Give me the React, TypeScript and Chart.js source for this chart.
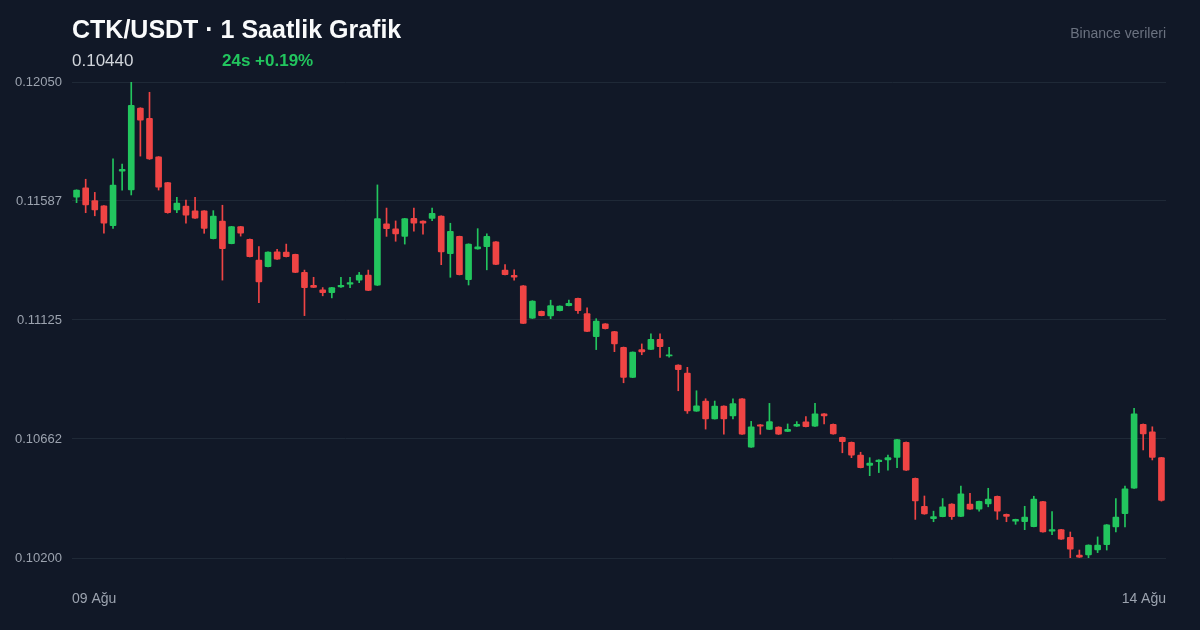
import { useEffect, useRef } from 'react';
import { Chart, registerables } from 'chart.js';

Chart.register(...registerables);

// 1 saatlik mumlar, 09 Ağu - 14 Ağu (120 adet)
const opens = [
  0.11602, 0.11639, 0.11589, 0.11569, 0.11492, 0.11703, 0.11631, 0.11949, 0.11909, 0.11759,
  0.11659, 0.11553, 0.11568, 0.11549, 0.11549, 0.11441, 0.11509, 0.11422, 0.11488, 0.11439,
  0.11358, 0.11332, 0.11390, 0.11389, 0.11380, 0.11310, 0.11260, 0.11242, 0.11231, 0.11254,
  0.11264, 0.11280, 0.11300, 0.11260, 0.11499, 0.11479, 0.11450, 0.11520, 0.11509, 0.11520,
  0.11529, 0.11383, 0.11450, 0.11282, 0.11401, 0.11410, 0.11429, 0.11319, 0.11299, 0.11258,
  0.11132, 0.11159, 0.11141, 0.11161, 0.11181, 0.11209, 0.11150, 0.11060, 0.11110, 0.11080,
  0.11019, 0.10902, 0.11010, 0.11011, 0.11050, 0.10985, 0.10950, 0.10919, 0.10771, 0.10810,
  0.10741, 0.10790, 0.10752, 0.10819, 0.10631, 0.10718, 0.10700, 0.10709, 0.10692, 0.10712,
  0.10729, 0.10712, 0.10760, 0.10720, 0.10669, 0.10650, 0.10600, 0.10560, 0.10574, 0.10581,
  0.10591, 0.10650, 0.10510, 0.10401, 0.10353, 0.10361, 0.10410, 0.10362, 0.10410, 0.10390,
  0.10410, 0.10440, 0.10370, 0.10343, 0.10341, 0.10322, 0.10419, 0.10304, 0.10310, 0.10280,
  0.10211, 0.10212, 0.10231, 0.10252, 0.10321, 0.10372, 0.10471, 0.10720, 0.10690, 0.10590,
];

const highs = [
  0.11631, 0.11672, 0.11621, 0.11570, 0.11751, 0.11731, 0.12050, 0.11950, 0.12010, 0.11760,
  0.11660, 0.11602, 0.11591, 0.11602, 0.11550, 0.11550, 0.11571, 0.11489, 0.11489, 0.11440,
  0.11410, 0.11390, 0.11400, 0.11420, 0.11381, 0.11319, 0.11291, 0.11251, 0.11252, 0.11291,
  0.11291, 0.11310, 0.11319, 0.11650, 0.11560, 0.11510, 0.11520, 0.11560, 0.11510, 0.11560,
  0.11530, 0.11501, 0.11451, 0.11421, 0.11480, 0.11460, 0.11430, 0.11340, 0.11320, 0.11259,
  0.11200, 0.11160, 0.11202, 0.11180, 0.11202, 0.11210, 0.11172, 0.11130, 0.11111, 0.11081,
  0.11020, 0.11001, 0.11032, 0.11071, 0.11071, 0.11019, 0.10951, 0.10941, 0.10850, 0.10819,
  0.10810, 0.10791, 0.10819, 0.10820, 0.10731, 0.10719, 0.10801, 0.10710, 0.10721, 0.10730,
  0.10750, 0.10801, 0.10761, 0.10721, 0.10670, 0.10651, 0.10611, 0.10590, 0.10582, 0.10600,
  0.10661, 0.10651, 0.10511, 0.10441, 0.10382, 0.10431, 0.10411, 0.10480, 0.10451, 0.10421,
  0.10471, 0.10441, 0.10371, 0.10351, 0.10401, 0.10440, 0.10420, 0.10380, 0.10311, 0.10301,
  0.10231, 0.10251, 0.10282, 0.10330, 0.10431, 0.10480, 0.10782, 0.10721, 0.10710, 0.10591,
];

const lows = [
  0.11581, 0.11542, 0.11530, 0.11462, 0.11481, 0.11630, 0.11611, 0.11762, 0.11749, 0.11630,
  0.11540, 0.11542, 0.11501, 0.11520, 0.11462, 0.11440, 0.11280, 0.11421, 0.11451, 0.11370,
  0.11192, 0.11331, 0.11360, 0.11370, 0.11309, 0.11142, 0.11251, 0.11219, 0.11211, 0.11252,
  0.11251, 0.11270, 0.11239, 0.11259, 0.11450, 0.11431, 0.11420, 0.11470, 0.11459, 0.11511,
  0.11340, 0.11291, 0.11300, 0.11261, 0.11400, 0.11320, 0.11340, 0.11300, 0.11280, 0.11111,
  0.11131, 0.11141, 0.11130, 0.11160, 0.11180, 0.11151, 0.11080, 0.11010, 0.11090, 0.11002,
  0.10881, 0.10901, 0.10990, 0.11010, 0.10980, 0.10981, 0.10850, 0.10762, 0.10770, 0.10701,
  0.10740, 0.10681, 0.10741, 0.10680, 0.10630, 0.10681, 0.10699, 0.10680, 0.10691, 0.10711,
  0.10709, 0.10711, 0.10721, 0.10681, 0.10609, 0.10590, 0.10550, 0.10520, 0.10532, 0.10541,
  0.10551, 0.10540, 0.10350, 0.10370, 0.10341, 0.10360, 0.10350, 0.10361, 0.10389, 0.10382,
  0.10399, 0.10350, 0.10341, 0.10331, 0.10310, 0.10321, 0.10300, 0.10291, 0.10272, 0.10201,
  0.10202, 0.10201, 0.10221, 0.10231, 0.10301, 0.10321, 0.10470, 0.10620, 0.10581, 0.10421,
];

const closes = [
  0.11630, 0.11572, 0.11553, 0.11501, 0.11649, 0.11711, 0.11959, 0.11902, 0.11751, 0.11641,
  0.11542, 0.11579, 0.11532, 0.11521, 0.11481, 0.11529, 0.11402, 0.11488, 0.11462, 0.11371,
  0.11273, 0.11389, 0.11361, 0.11371, 0.11310, 0.11251, 0.11252, 0.11231, 0.11251, 0.11260,
  0.11270, 0.11300, 0.11240, 0.11519, 0.11480, 0.11460, 0.11519, 0.11501, 0.11501, 0.11540,
  0.11390, 0.11470, 0.11301, 0.11420, 0.11409, 0.11450, 0.11341, 0.11301, 0.11291, 0.11112,
  0.11199, 0.11142, 0.11181, 0.11179, 0.11190, 0.11161, 0.11081, 0.11121, 0.11091, 0.11032,
  0.10902, 0.11000, 0.11001, 0.11050, 0.11021, 0.10990, 0.10932, 0.10772, 0.10791, 0.10741,
  0.10790, 0.10741, 0.10800, 0.10681, 0.10710, 0.10712, 0.10730, 0.10681, 0.10700, 0.10720,
  0.10710, 0.10760, 0.10752, 0.10682, 0.10652, 0.10600, 0.10551, 0.10569, 0.10581, 0.10590,
  0.10660, 0.10541, 0.10422, 0.10371, 0.10361, 0.10399, 0.10361, 0.10449, 0.10390, 0.10420,
  0.10429, 0.10382, 0.10362, 0.10350, 0.10359, 0.10429, 0.10301, 0.10310, 0.10273, 0.10234,
  0.10203, 0.10250, 0.10250, 0.10329, 0.10359, 0.10469, 0.10760, 0.10682, 0.10591, 0.10424,
];

const xTickLabels = ['09 Ağu', '14 Ağu'];
const yTickValues = [0.102, 0.106625, 0.11125, 0.115875, 0.1205];
const yTickLabels = ['0.10200', '0.10662', '0.11125', '0.11587', '0.12050'];

const UP = '#22c55e';
const DOWN = '#ef4444';
const FONT = "'Liberation Sans', Arial, Helvetica, sans-serif";

const App = () => {
  const canvasRef = useRef<HTMLCanvasElement>(null);

  useEffect(() => {
    if (!canvasRef.current) return;
    const labels = opens.map((_, i) => `${i}`);
    const colors = opens.map((o, i) => (closes[i] >= o ? UP : DOWN));

    const chart = new Chart(canvasRef.current, {
      type: 'bar',
      data: {
        labels,
        datasets: [
          {
            // gövdeler
            data: opens.map((o, i) => [o, closes[i]]) as any,
            backgroundColor: colors,
            barThickness: 6,
            borderRadius: 1,
            borderSkipped: false,
            grouped: false,
            xAxisID: 'x',
          },
          {
            // fitiller
            data: lows.map((l, i) => [l, highs[i]]) as any,
            backgroundColor: colors,
            barThickness: 1,
            grouped: false,
            xAxisID: 'x',
          },
        ],
      },
      options: {
        animation: false,
        responsive: true,
        maintainAspectRatio: false,
        layout: { padding: { top: 82, right: 34, bottom: 0, left: 0 } },
        plugins: {
          legend: { display: false },
          tooltip: { enabled: false },
        },
        scales: {
          x: {
            type: 'category',
            display: false,
            offset: true,
          },
          // sadece ilk/son tarih etiketi için
          x2: {
            type: 'linear',
            position: 'bottom',
            min: 0,
            max: 1,
            offset: false,
            afterBuildTicks: (scale: any) => {
              scale.ticks = [{ value: 0 }, { value: 1 }];
            },
            afterFit: (scale: any) => {
              scale.height = 72;
            },
            grid: { display: false, drawTicks: false, offset: false },
            border: { display: false },
            ticks: {
              align: 'inner',
              padding: 33,
              color: '#9ca3af',
              font: { size: 14, family: FONT },
              callback: (v: any) => (v === 0 ? xTickLabels[0] : xTickLabels[1]),
            },
          },
          y: {
            position: 'left',
            min: 0.102,
            max: 0.1205,
            afterBuildTicks: (scale: any) => {
              scale.ticks = yTickValues.map((value) => ({ value }));
            },
            afterFit: (scale: any) => {
              scale.width = 72;
            },
            grid: { color: '#1f2937', lineWidth: 1, drawTicks: false },
            border: { display: false },
            ticks: {
              padding: 10,
              color: '#9ca3af',
              font: { size: 13, family: FONT },
              callback: (_v: any, i: number) => yTickLabels[i],
            },
          },
        },
      },
    });

    return () => chart.destroy();
  }, []);

  return (
    <div
      style={{
        position: 'fixed',
        left: 0,
        top: 0,
        width: 1200,
        height: 630,
        background: '#111827',
        fontFamily: FONT,
        overflow: 'hidden',
      }}
    >
      <canvas ref={canvasRef} />
      <div
        style={{
          position: 'absolute',
          left: 72,
          top: 16.5,
          fontSize: 25,
          lineHeight: '25px',
          fontWeight: 700,
          color: '#f9fafb',
          whiteSpace: 'nowrap',
        }}
      >
        CTK/USDT · 1 Saatlik Grafik
      </div>
      <div
        style={{
          position: 'absolute',
          left: 72,
          top: 51.5,
          fontSize: 17,
          lineHeight: '17px',
          color: '#d1d5db',
        }}
      >
        0.10440
      </div>
      <div
        style={{
          position: 'absolute',
          left: 222,
          top: 51.5,
          fontSize: 17,
          lineHeight: '17px',
          fontWeight: 700,
          color: UP,
        }}
      >
        24s +0.19%
      </div>
      <div
        style={{
          position: 'absolute',
          right: 34,
          top: 26,
          fontSize: 14,
          lineHeight: '14px',
          color: '#6b7280',
        }}
      >
        Binance verileri
      </div>
    </div>
  );
};

export default App;
